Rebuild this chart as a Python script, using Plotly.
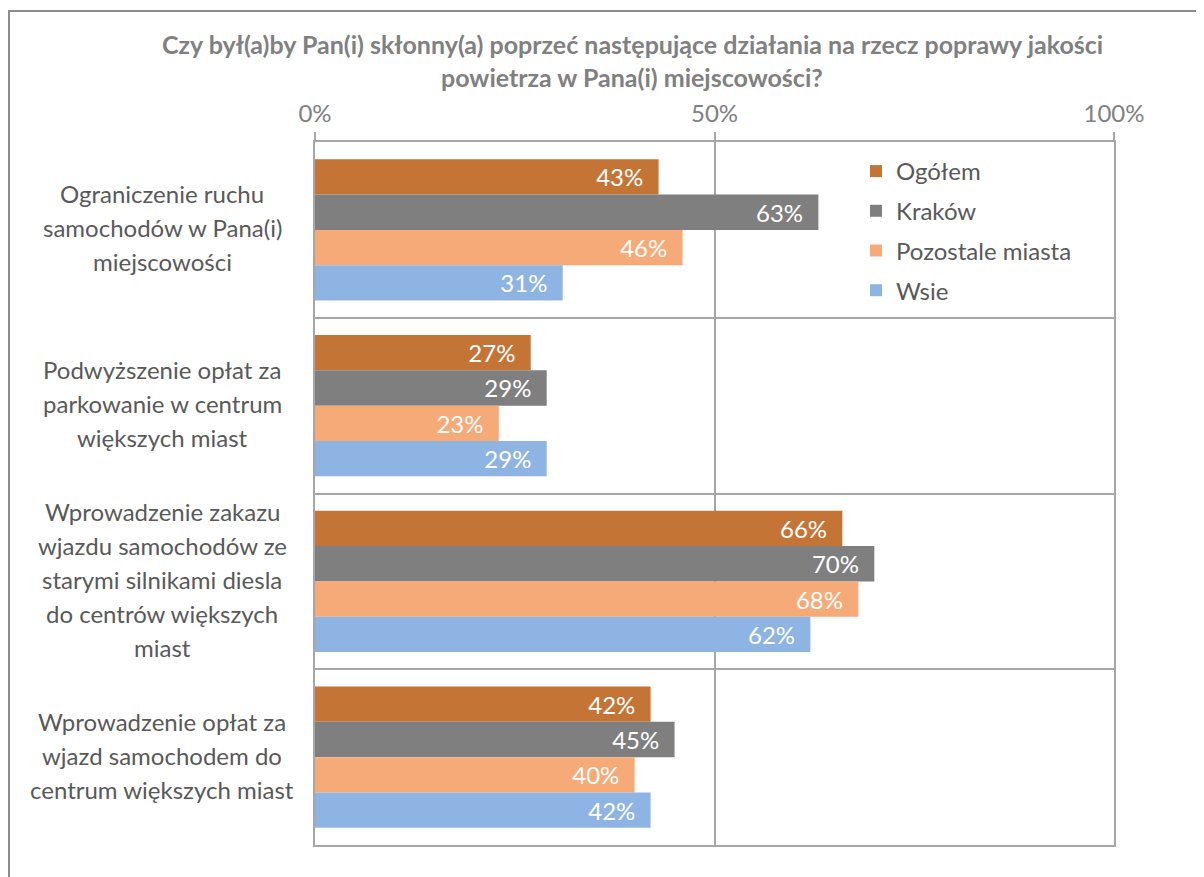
import plotly.graph_objects as go

categories = [
    "Ograniczenie ruchu<br>samochodów w Pana(i)<br>miejscowości",
    "Podwyższenie opłat za<br>parkowanie w centrum<br>większych miast",
    "Wprowadzenie zakazu<br>wjazdu samochodów ze<br>starymi silnikami diesla<br>do centrów większych<br>miast",
    "Wprowadzenie opłat za<br>wjazd samochodem do<br>centrum większych miast",
]
series_names = ["Ogółem", "Kraków", "Pozostale miasta", "Wsie"]
ogolem = [43, 27, 66, 42]
krakow = [63, 29, 70, 45]
pozostale = [46, 23, 68, 40]
wsie = [31, 29, 62, 42]
x_ticks = [0, 50, 100]
x_tick_labels = ["0%", "50%", "100%"]
title_lines = [
    "Czy był(a)by Pan(i) skłonny(a) poprzeć następujące działania na rzecz poprawy jakości",
    "powietrza w Pana(i) miejscowości?",
]

colors = ["#C47535", "#7F7F7F", "#F6AA78", "#8EB4E3"]
FONT = "Lato"
OFF = 8  # page body margin
W, H = 1204 - OFF, 877 - OFF
L = 315 - OFF
T = 142 - OFF
R = W - (1114 - OFF)
B = H - (845 - OFF)
pw = W - L - R
ph = H - T - B


def px_x(page_x):
    return (page_x - OFF - L) / pw


def px_y(page_y):
    return 1 - (page_y - OFF - T) / ph


fig = go.Figure()
for i, (name, vals) in enumerate(zip(series_names, [ogolem, krakow, pozostale, wsie])):
    fig.add_trace(go.Bar(
        y=categories, x=vals, name=name, orientation="h",
        marker=dict(color=colors[i], line=dict(width=0)),
        text=[f"{v}%" for v in vals],
        texttemplate="%{text}&nbsp;&nbsp;",
        textposition="inside", insidetextanchor="end",
        textfont=dict(family=FONT, size=24, color="white"),
        legendgroup=name,
        hoverinfo="skip",
    ))

fig.update_layout(
    width=W, height=H,
    margin=dict(l=L, r=R, t=T, b=B),
    paper_bgcolor="white", plot_bgcolor="white",
    barmode="group", bargap=0.195, bargroupgap=0,
    showlegend=True,
    uniformtext=dict(minsize=24, mode="show"),
    legend=dict(
        x=px_x(856), y=px_y(149), xanchor="left", yanchor="top",
        font=dict(family=FONT, size=24, color="#595959"),
        bgcolor="rgba(255,255,255,0)", tracegroupgap=5.5, itemwidth=30,
        traceorder="grouped",
    ),
    font=dict(family=FONT, color="#595959"),
)

fig.update_xaxes(
    side="top", range=[0, 100], tickvals=x_ticks, ticktext=x_tick_labels,
    tickfont=dict(family=FONT, size=24, color="#808080"),
    ticks="outside", ticklen=8, tickcolor="#A6A6A6", tickwidth=1.5,
    showgrid=True, gridcolor="#A6A6A6", gridwidth=1.5,
    showline=True, linecolor="#A6A6A6", linewidth=2, mirror=True,
    zeroline=False, fixedrange=True,
)
fig.update_yaxes(
    type="category", autorange="reversed", tickson="boundaries",
    showticklabels=False, ticks="",
    showgrid=True, gridcolor="#A6A6A6", gridwidth=1.5,
    showline=True, linecolor="#A6A6A6", linewidth=2, mirror=True,
    fixedrange=True,
)

# category labels: one annotation per line, centered
line_gap = 34
for cat in categories:
    lines = cat.split("<br>")
    n = len(lines)
    for j, ln in enumerate(lines):
        fig.add_annotation(
            x=px_x(162), xref="paper", y=cat, yref="y",
            text=ln, showarrow=False, xanchor="center", yanchor="middle",
            yshift=((n - 1) / 2 - j) * line_gap + 2,
            font=dict(family=FONT, size=24, color="#595959"),
        )

# title lines
for j, tl in enumerate(title_lines):
    fig.add_annotation(
        x=px_x(632), xref="paper", y=px_y(44 + 33 * j), yref="paper",
        text=f"<b>{tl}</b>", showarrow=False, xanchor="center", yanchor="middle",
        font=dict(family=FONT, size=25, color="#808080"),
    )

# outer chart border
fig.add_shape(
    type="rect", xref="paper", yref="paper",
    x0=px_x(9), x1=px_x(1230),
    y0=px_y(900), y1=px_y(11),
    line=dict(color="#8C8C8C", width=2), fillcolor="rgba(0,0,0,0)", layer="below",
)

fig.write_html("out.html")
